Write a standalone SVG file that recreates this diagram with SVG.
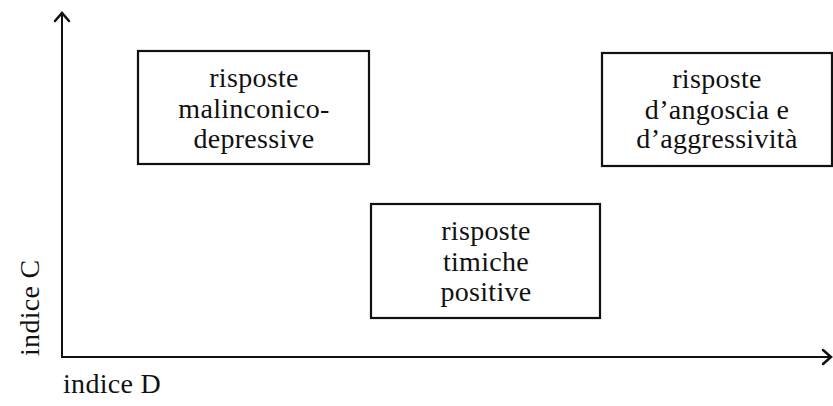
<svg xmlns="http://www.w3.org/2000/svg" width="833" height="406" viewBox="0 0 833 406">
<style>
.box{fill:#fff;stroke:#111;stroke-width:2.2}
.t{font-family:"Liberation Serif","DejaVu Serif",serif;font-size:28px;fill:#111;text-anchor:middle;letter-spacing:0.3px}
.ax{stroke:#111;stroke-width:2;fill:none}
.ah{stroke:#111;stroke-width:2.5;fill:none;stroke-linecap:round;stroke-linejoin:miter}
</style>
<rect width="833" height="406" fill="#fff"/>
<g id="axes">
<line class="ax" x1="62" y1="13" x2="62" y2="357"/>
<line class="ax" x1="61" y1="357" x2="830" y2="357"/>
<polyline class="ah" points="55,21 62,13 69,21"/>
<polyline class="ah" points="823,350 831,357 823,364"/>
</g>
<g id="node-malinconico">
<rect class="box" x="138" y="51" width="231" height="113"/>
<text class="t" x="254" y="87">risposte</text>
<text class="t" x="254" y="118">malinconico-</text>
<text class="t" x="254" y="148">depressive</text>
</g>
<g id="node-angoscia">
<rect class="box" x="602" y="53" width="230" height="113"/>
<text class="t" x="717" y="88">risposte</text>
<text class="t" x="717" y="119">d’angoscia e</text>
<text class="t" x="717" y="148">d’aggressività</text>
</g>
<g id="node-timiche">
<rect class="box" x="371" y="204" width="229" height="114"/>
<text class="t" x="486" y="240">risposte</text>
<text class="t" x="486" y="271">timiche</text>
<text class="t" x="486" y="301">positive</text>
</g>
<g id="labels">
<text class="t" x="63" y="393" style="text-anchor:start">indice D</text>
<text class="t" transform="translate(39,356) rotate(-90)" style="text-anchor:start">indice C</text>
</g>
</svg>
